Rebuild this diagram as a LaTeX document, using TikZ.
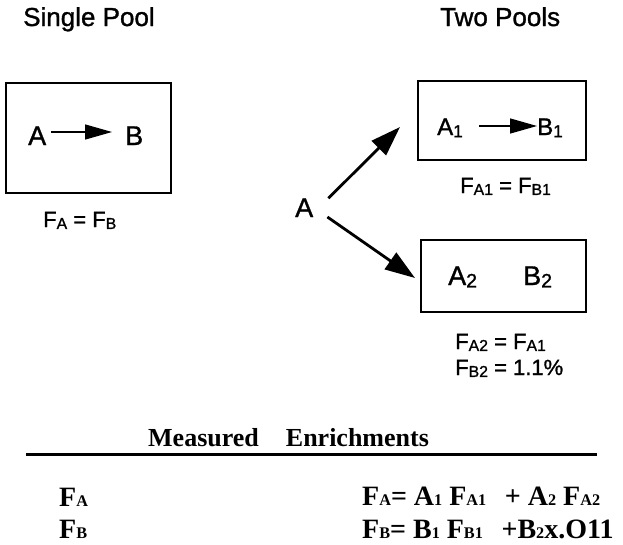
\documentclass[tikz,border=0pt]{standalone}
\usepackage{fontspec}
\setmainfont{Liberation Sans}[FakeBold=1.2]
\newfontfamily\timesfont{Liberation Serif}
\usetikzlibrary{arrows.meta,positioning}

\newcommand{\lo}[1]{\raisebox{-0.09em}{\scalebox{0.72}{#1}}}
\newcommand{\bsub}[1]{\scalebox{0.58}{#1}}

\begin{document}
\begin{tikzpicture}[
    x=1pt, y=-1pt,
    pool/.style={rectangle, draw, line width=1.6pt, inner sep=0pt},
    species/.style={inner sep=0pt, anchor=base west, font=\fontsize{27}{31}\selectfont},
    title/.style={inner sep=0pt, anchor=base west, font=\fontsize{26}{30}\selectfont},
    flux/.style={inner sep=0pt, anchor=base west, font=\fontsize{22}{26}\selectfont},
    eqn/.style={inner sep=0pt, anchor=base west, font=\timesfont\bfseries\fontsize{28}{32}\selectfont},
    flow/.style={-{Triangle[length=27pt,width=15pt]}, line width=1.4pt},
    split/.style={-{Triangle[length=30pt,width=20pt]}, line width=2.8pt}
]
    \useasboundingbox (0,0) rectangle (623,544);

    % --- Left: single pool ---
    \node [title] (single) at (23,26) {Single Pool};
    \node [pool, minimum width=165pt, minimum height=110pt] (pool) at (88.5,138) {};
    \node [species] (a) at (28,145) {A};
    \node [species] (b) at (125,145) {B};
    \node [flux] (fab) at (43,227) {F\lo{A} = F\lo{B}};

    % --- Right: two pools ---
    \node [title] (two) at (440,26) {Two Pools};
    \node [species] (src) at (295,217) {A};

    \node [pool, minimum width=168pt, minimum height=79pt] (pool1) at (502,120.5) {};
    \node [species, font=\fontsize{24}{28}\selectfont] (a1) at (437,135) {A\lo{1}};
    \node [species, font=\fontsize{24}{28}\selectfont] (b1) at (537,135) {B\lo{1}};
    \node [flux] (fab1) at (460,193) {F\lo{A1} = F\lo{B1}};

    \node [pool, minimum width=165pt, minimum height=72pt] (pool2) at (503.5,276) {};
    \node [species] (a2) at (448,285) {A\lo{2}};
    \node [species] (b2) at (523,285) {B\lo{2}};
    \node [flux] (fa2) at (455,349) {F\lo{A2} = F\lo{A1}};
    \node [flux] (fb2) at (455,375) {F\lo{B2} = 1.1\%};

    \coordinate (tipup) at (400,127);
    \coordinate (tipdown) at (415,278);

    % Paths
    \draw [flow] ([shift={(5pt,13pt)}]a.base east) -- ([shift={(-13pt,13pt)}]b.base west);
    \draw [flow] ([shift={(16pt,9pt)}]a1.base east) -- ([yshift=9pt]b1.base west);
    \draw [split] ([xshift=15pt]src.north east) -- (tipup);
    \draw [split] ([xshift=14pt]src.base east) -- (tipdown);

    % --- Bottom: measured enrichments ---
    \node [eqn, font=\timesfont\bfseries\fontsize{26}{30}\selectfont] (measured) at (148,446) {Measured\hspace{27pt}Enrichments};
    \draw [line width=3pt] (26,454) -- (597,454);
    \node [eqn] (fa) at (59,506) {F\bsub{A}};
    \node [eqn] (fb) at (59,538) {F\bsub{B}};
    \node [eqn] (eqa) at (362,505) {F\bsub{A}= A\bsub{1} F\bsub{A1} \ \,+ A\bsub{2} F\bsub{A2}};
    \node [eqn] (eqb) at (362,538) {F\bsub{B}= B\bsub{1} F\bsub{B1} \ \,+B\bsub{2}x.O11};

\end{tikzpicture}
\end{document}
